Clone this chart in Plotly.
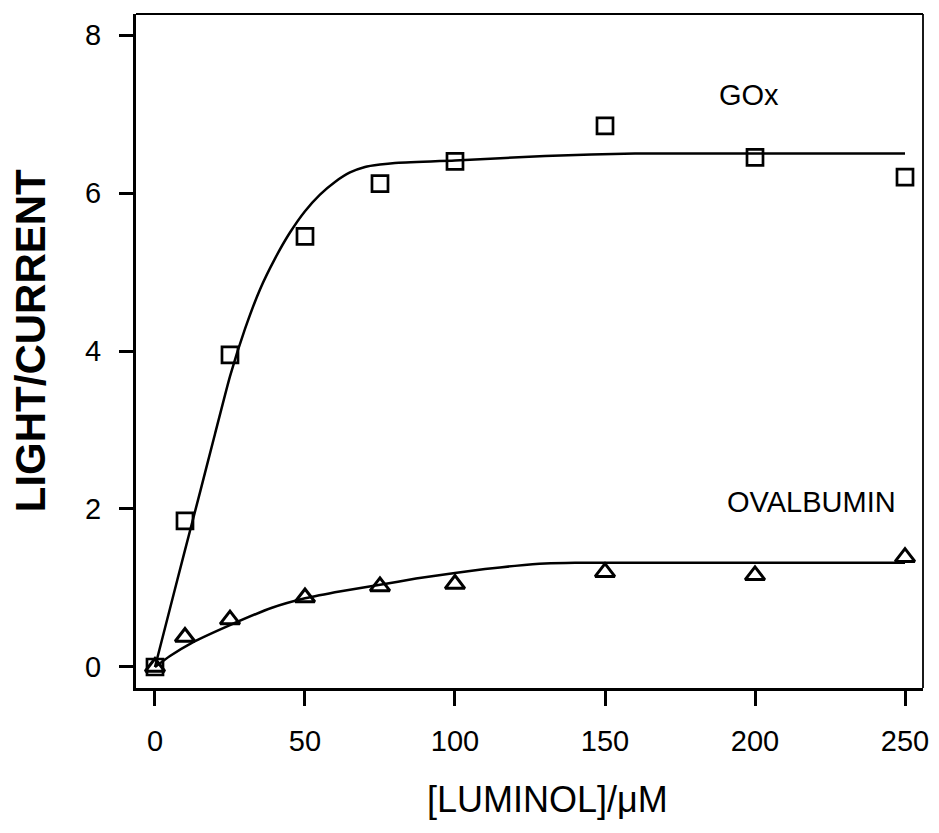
import plotly.graph_objects as go

# Measured data
luminol = [0, 10, 25, 50, 75, 100, 150, 200, 250]
gox = [0.0, 1.85, 3.95, 5.45, 6.12, 6.40, 6.85, 6.45, 6.20]
ovalbumin = [0.0, 0.38, 0.60, 0.88, 1.02, 1.05, 1.20, 1.16, 1.39]

# Fitted curves
gox_fit_x = [0, 5, 10, 15, 20, 25, 30, 35, 40, 45, 50, 55, 60, 65, 70, 75, 80, 100, 130, 160, 250]
gox_fit_y = [0.0, 0.74, 1.48, 2.21, 2.95, 3.68, 4.28, 4.78, 5.17, 5.50, 5.77, 5.98, 6.14,
             6.26, 6.33, 6.36, 6.38, 6.41, 6.47, 6.50, 6.50]
ova_fit_x = [0, 5, 12, 25, 39, 50, 62, 75, 87, 100, 110, 120, 130, 140, 250]
ova_fit_y = [0.0, 0.14, 0.30, 0.53, 0.75, 0.87, 0.96, 1.04, 1.12, 1.19, 1.24, 1.28, 1.31, 1.32, 1.32]

x_ticks = [0, 50, 100, 150, 200, 250]
y_ticks = [0, 2, 4, 6, 8]

FONT = "Liberation Sans, Arial, Helvetica, sans-serif"

fig = go.Figure()
fig.add_trace(go.Scatter(x=gox_fit_x, y=gox_fit_y, mode="lines",
                         line=dict(color="black", width=2.5, shape="spline", smoothing=0.5),
                         showlegend=False, hoverinfo="skip"))
fig.add_trace(go.Scatter(x=ova_fit_x, y=ova_fit_y, mode="lines",
                         line=dict(color="black", width=2.5, shape="spline", smoothing=0.5),
                         showlegend=False, hoverinfo="skip"))
fig.add_trace(go.Scatter(x=luminol, y=gox, mode="markers", name="GOx",
                         marker=dict(symbol="square-open", size=16, color="black",
                                     line=dict(width=2.7, color="black")),
                         showlegend=False))
fig.add_trace(go.Scatter(x=luminol, y=ovalbumin, mode="markers", name="OVALBUMIN",
                         marker=dict(symbol="triangle-up-open", size=17, color="black",
                                     line=dict(width=3, color="black")),
                         showlegend=False))

fig.add_annotation(x=198, y=7.24, text="GOx", showarrow=False,
                   font=dict(family=FONT, size=29, color="black"))
fig.add_annotation(x=218.7, y=2.09, text="OVALBUMIN", showarrow=False,
                   font=dict(family=FONT, size=29, color="black"))

# Axis titles
fig.add_annotation(xref="paper", yref="paper", x=-0.1347, y=0.516, text="<b>LIGHT/CURRENT</b>",
                   textangle=-90, showarrow=False, xanchor="center", yanchor="middle",
                   font=dict(family=FONT, size=42, color="black"))
fig.add_annotation(xref="paper", yref="paper", x=0.5235, y=-0.166, text="[LUMINOL]/μM",
                   showarrow=False, xanchor="center", yanchor="middle",
                   font=dict(family=FONT, size=36, color="black"))

# thinner top/right frame lines
fig.add_shape(type="line", xref="paper", yref="paper", x0=0, x1=1, y0=1, y1=1,
              line=dict(color="black", width=1.8))
fig.add_shape(type="line", xref="paper", yref="paper", x0=1, x1=1, y0=0, y1=1,
              line=dict(color="black", width=1.8))

fig.update_xaxes(range=[-6.33, 256], tickvals=x_ticks, ticktext=[str(v) for v in x_ticks],
                 showgrid=False, zeroline=False, showline=True, linecolor="black", linewidth=3,
                 ticks="outside", ticklen=15, tickwidth=2.5, tickcolor="black",
                 ticklabelstandoff=10,
                 tickfont=dict(family=FONT, size=29, color="black"))
fig.update_yaxes(range=[-0.266, 8.266], tickvals=y_ticks, ticktext=[str(v) for v in y_ticks],
                 showgrid=False, zeroline=False, showline=True, linecolor="black", linewidth=3,
                 ticks="outside", ticklen=14, tickwidth=2.5, tickcolor="black",
                 ticklabelstandoff=12,
                 tickfont=dict(family=FONT, size=29, color="black"))

# the page body has an 8px margin; size the figure so the plot box lands where the reference has it
fig.update_layout(width=931, height=825, plot_bgcolor="white", paper_bgcolor="white",
                  margin=dict(l=128, r=16, t=6, b=145), showlegend=False)

fig.write_html("out.html")
